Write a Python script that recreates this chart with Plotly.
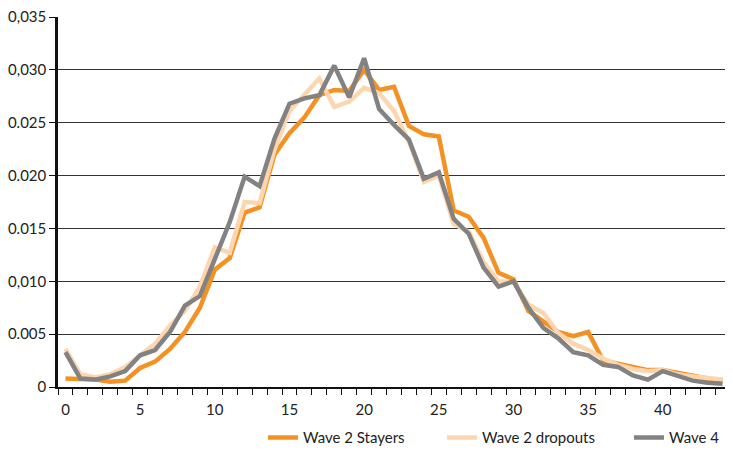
import plotly.graph_objects as go

x_vals = list(range(45))

stayers = [0.0008, 0.0008, 0.0007, 0.0005, 0.0006, 0.0018, 0.0024, 0.0036, 0.0052, 0.0075,
           0.0111, 0.0122, 0.0165, 0.0170, 0.0220, 0.0240, 0.0255, 0.0276, 0.0281, 0.0280,
           0.0300, 0.0281, 0.0284, 0.0247, 0.0239, 0.0237, 0.0167, 0.0161, 0.0141, 0.0108,
           0.0102, 0.0072, 0.0062, 0.0052, 0.0048, 0.0052, 0.0025, 0.0022, 0.0019, 0.0016,
           0.0016, 0.0013, 0.0010, 0.0008, 0.0006]

dropouts = [0.0036, 0.0012, 0.0009, 0.0012, 0.0019, 0.0030, 0.0041, 0.0058, 0.0072, 0.0095,
            0.0132, 0.0127, 0.0175, 0.0174, 0.0225, 0.0261, 0.0276, 0.0292, 0.0265, 0.0270,
            0.0283, 0.0278, 0.0261, 0.0232, 0.0194, 0.0200, 0.0154, 0.0147, 0.0118, 0.0100,
            0.0099, 0.0078, 0.0070, 0.0051, 0.0041, 0.0035, 0.0027, 0.0021, 0.0017, 0.0015,
            0.0016, 0.0012, 0.0010, 0.0009, 0.0007]

wave4 = [0.0033, 0.0008, 0.0007, 0.0010, 0.0015, 0.0030, 0.0035, 0.0052, 0.0077, 0.0086,
         0.0121, 0.0156, 0.0199, 0.0190, 0.0235, 0.0268, 0.0273, 0.0276, 0.0304, 0.0274,
         0.0311, 0.0263, 0.0248, 0.0234, 0.0197, 0.0203, 0.0159, 0.0145, 0.0113, 0.0095,
         0.0100, 0.0075, 0.0056, 0.0046, 0.0033, 0.0030, 0.0021, 0.0019, 0.0011, 0.0007,
         0.0015, 0.0010, 0.0006, 0.0004, 0.0003]

y_tickvals = [0, 0.005, 0.010, 0.015, 0.020, 0.025, 0.030, 0.035]
y_ticktext = ["0", "0.005", "0,010", "0.015", "0.020", "0.025", "0,030", "0,035"]
x_tickvals = [0, 5, 10, 15, 20, 25, 30, 35, 40]
x_ticktext = ["0", "5", "10", "15", "20", "25", "30", "35", "40"]

series_names = ["Wave 2 Stayers", "Wave 2 dropouts", "Wave 4"]
series_colors = ["#F39222", "#FDD6B0", "#828282"]
legend_widths = [134, 142, 46]

fig = go.Figure()
for name, ys, col, lw in zip(series_names, [stayers, dropouts, wave4], series_colors, legend_widths):
    fig.add_trace(go.Scatter(x=x_vals, y=ys, mode="lines", name=name, legendwidth=lw,
                             line=dict(color=col, width=4.5)))

font_family = "Lato, Noto Sans, sans-serif"

# the page body adds an 8px offset, so the figure is sized to the remaining area
fig.update_layout(
    width=725, height=445,
    margin=dict(l=50, r=3, t=9, b=66),
    plot_bgcolor="white", paper_bgcolor="white",
    font=dict(family=font_family, size=15, color="#222222"),
    showlegend=True,
    legend=dict(orientation="h", x=0.305, xanchor="left",
                yref="container", y=0.034, yanchor="middle",
                font=dict(size=15, color="#222222"),
                traceorder="normal", bgcolor="rgba(0,0,0,0)"),
    xaxis=dict(range=[-0.5, 44.5], tickvals=x_tickvals, ticktext=x_ticktext,
               ticks="", showgrid=False, zeroline=False, automargin=False,
               showline=True, linecolor="#111111", linewidth=2,
               tickfont=dict(size=15), ticklabelstandoff=8,
               minor=dict(tick0=-0.5, dtick=1, ticks="outside", ticklen=6,
                          tickcolor="#111111", tickwidth=1, showgrid=False)),
    yaxis=dict(range=[0, 0.0350001], tickvals=y_tickvals, ticktext=y_ticktext,
               ticks="outside", ticklen=6, tickcolor="#111111", automargin=False,
               ticklabeloverflow="allow",
               showgrid=True, gridcolor="#333333", gridwidth=1, zeroline=False,
               showline=True, linecolor="#111111", linewidth=2.5,
               tickfont=dict(size=15)),
)

fig.write_html("out.html")
